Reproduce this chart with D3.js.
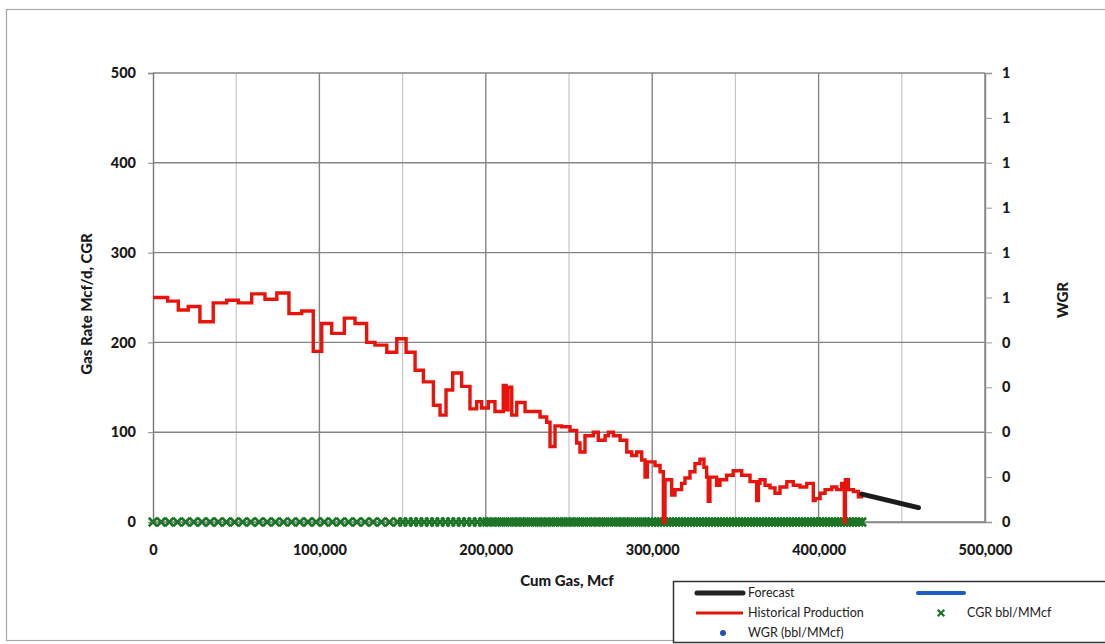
<!DOCTYPE html>
<html><head><meta charset="utf-8">
<script src="https://cdn.jsdelivr.net/npm/d3@7"></script>
<style>
html,body{margin:0;padding:0;background:#fff;}
svg{display:block;font-family:Lato,"Open Sans",sans-serif;}
</style></head>
<body>
<svg id="chart" width="1105" height="644"></svg>
<script>
// ---------------- DATA ----------------
const xTickValues = [0, 100000, 200000, 300000, 400000, 500000];
const yTickValues = [0, 100, 200, 300, 400, 500];
const wgrTickValues = [0, 0.1, 0.2, 0.3, 0.4, 0.5, 0.6, 0.7, 0.8, 0.9, 1.0];
const wgrTickLabels = ["0", "0", "0", "0", "0", "1", "1", "1", "1", "1", "1"];

// Historical production (step starts): cumulative gas (Mcf) and gas rate (Mcf/d)
const histCum = [0, 8800, 15200, 21200, 28200, 36200, 44300, 51300, 59300, 67300, 74400, 81700, 89400, 96300,
  101400, 107400, 115000, 121400, 128400, 133400, 140500, 146500, 152100, 157500, 162500, 168500, 172500,
  176100, 180100, 185500, 190500, 194500, 197500, 201500, 205500, 210500, 212200, 213400, 215600, 218600,
  223600, 232600, 236600, 238600, 241600, 245600, 250600, 254600, 256600, 259600, 264600, 267600, 271700,
  273700, 276700, 280700, 284700, 287700, 290700, 293700, 295700, 297100, 301700, 304700, 306700, 307700,
  311700, 313700, 317700, 319700, 322700, 325700, 328700, 331100, 332700, 333700, 334700, 338700, 340700,
  344700, 348700, 353800, 358800, 362800, 363800, 364800, 367800, 370800, 373800, 376800, 380900, 384800,
  388800, 392900, 396800, 397900, 400900, 403900, 407900, 410900, 413900, 415500, 416100, 417900, 420900,
  423900, 426900];
const histRate = [250, 246, 236, 240, 223, 244, 247, 244, 254, 248, 255, 232, 235, 190,
  221, 210, 227, 221, 200, 197, 189, 204, 189, 169, 156, 130, 119,
  147, 166, 151, 126, 134, 127, 134, 123, 152, 125, 150, 119, 133,
  123, 117, 111, 84, 107, 106, 102, 88, 78, 96, 100, 91, 96,
  100, 96, 91, 78, 74, 78, 69, 50, 67, 63, 56, 0, 47,
  30, 36, 43, 49, 56, 65, 70, 61, 50, 23, 50, 41, 47,
  52, 57, 52, 45, 24, 43, 47, 41, 38, 32, 39, 45, 41,
  39, 43, 24, 26, 32, 36, 39, 36, 43, 0, 47, 36, 34,
  28, 28];

// Forecast
const forecastCum = [426000, 460000];
const forecastRate = [31, 16];

// CGR (bbl/MMcf) points, all plotted at 0
const cgrCum = [0, 4900, 9800, 14700, 19600, 24500, 29400, 34300, 39200, 44100, 49000, 53900, 58800, 63700,
  68600, 73500, 78400, 83300, 88200, 93100, 98000, 102900, 107800, 112700, 117600, 122500, 127400, 132300,
  137200, 142100, 147000,
  150100, 153300, 156500, 159700, 162900, 166100, 169300, 172500, 175700, 178900, 182100, 185300, 188500,
  191700, 194900, 198100,
  200600, 203100, 205600, 208100, 210600, 213100, 215600, 218100, 220600, 223100, 225600, 228100, 230600,
  233100, 235600, 238100, 240600, 243100, 245600, 248100, 250600, 253100, 255600, 258100, 260600, 263100,
  265600, 268100, 270600, 273100, 275600, 278100, 280600, 283100, 285600, 288100, 290600, 293100, 295600, 298100,
  300000, 301800, 303600, 305400, 307200, 309000, 310800, 312600, 314400, 316200, 318000, 319800, 321600,
  323400, 325200, 327000, 328800, 330600, 332400, 334200, 336000, 337800, 339600, 341400, 343200, 345000,
  346800, 348600, 350400, 352200, 354000, 355800, 357600, 359400, 361200, 363000, 364800, 366600, 368400,
  370200, 372000, 373800, 375600, 377400, 379200, 381000, 382800, 384600, 386400, 388200, 390000, 391800,
  393600, 395400, 397200, 399000, 400800, 402600, 404400, 406200, 408000, 409800, 411600, 413400, 415200,
  417000, 418800, 420600, 422400, 424200, 426000];
const cgrValue = cgrCum.map(() => 0);

// WGR (bbl/MMcf): no visible points
const wgrCum = [];
const wgrValue = [];

const legendLabels = ["Forecast", "Historical Production", "WGR (bbl/MMcf)", "CGR bbl/MMcf"];

// ---------------- CHART ----------------
const svg = d3.select("#chart");
const plot = {left: 153, right: 985, top: 73, bottom: 522};

const x = d3.scaleLinear().domain([0, 500000]).range([plot.left, plot.right]);
const y = d3.scaleLinear().domain([0, 500]).range([plot.bottom, plot.top]);
const yR = d3.scaleLinear().domain([0, 1]).range([plot.bottom, plot.top]);

// outer chart border
svg.append("rect").attr("x", 6.5).attr("y", 9.5).attr("width", 1110).attr("height", 631)
  .attr("fill", "none").attr("stroke", "#a8a8a8").attr("stroke-width", 1.2);

// vertical gridlines
const vGrid = d3.range(50000, 500001, 50000);
svg.append("g").selectAll("line").data(vGrid).join("line")
  .attr("x1", d => x(d)).attr("x2", d => x(d))
  .attr("y1", plot.top).attr("y2", plot.bottom)
  .attr("stroke", d => d % 100000 === 0 ? "#858585" : "#c0c0c0")
  .attr("stroke-width", d => d % 100000 === 0 ? 1.4 : 1.1);

// horizontal gridlines
svg.append("g").selectAll("line").data(yTickValues).join("line")
  .attr("x1", plot.left).attr("x2", plot.right)
  .attr("y1", d => y(d)).attr("y2", d => y(d))
  .attr("stroke", "#858585").attr("stroke-width", 1.4);

const tickStyle = sel => sel.attr("font-family", "Lato").attr("font-weight", "900")
  .attr("font-size", 14.5).attr("fill", "#1a1a1a");

// left axis
const gL = svg.append("g").attr("transform", `translate(${plot.left},0)`)
  .call(d3.axisLeft(y).tickValues(yTickValues).tickFormat(d3.format("d")).tickSize(5).tickPadding(12));
gL.select(".domain").attr("stroke", "#777").attr("stroke-width", 1.4);
gL.selectAll(".tick line").attr("stroke", "#888");
tickStyle(gL.selectAll(".tick text"));

// bottom axis
const gB = svg.append("g").attr("transform", `translate(0,${plot.bottom})`)
  .call(d3.axisBottom(x).tickValues(xTickValues).tickFormat(d3.format(",")).tickSize(0).tickPadding(23));
gB.select(".domain").attr("stroke", "#888").attr("stroke-width", 1.3);
tickStyle(gB.selectAll(".tick text"));

// right axis
const gR = svg.append("g").attr("transform", `translate(${plot.right},0)`)
  .call(d3.axisRight(yR).tickValues(wgrTickValues).tickFormat((d, i) => wgrTickLabels[i]).tickSize(7).tickPadding(10));
gR.select(".domain").attr("stroke", "#858585").attr("stroke-width", 1.4);
gR.selectAll(".tick line").attr("stroke", "#999");
tickStyle(gR.selectAll(".tick text"));

// axis titles
const titleStyle = sel => sel.attr("text-anchor", "middle").attr("font-family", "Lato")
  .attr("font-weight", "900").attr("font-size", 15).attr("fill", "#1a1a1a");
titleStyle(svg.append("text").attr("transform", "translate(92,304) rotate(-90)")).text("Gas Rate Mcf/d, CGR");
titleStyle(svg.append("text").attr("transform", "translate(1068,300) rotate(-90)")).text("WGR");
titleStyle(svg.append("text").attr("x", 567).attr("y", 586)).text("Cum Gas, Mcf");

// CGR markers (x)
const xMark = d3.symbol().type(d3.symbolX).size(48);
svg.append("g").selectAll("path").data(cgrCum.map((c, i) => [c, cgrValue[i]])).join("path")
  .attr("d", xMark)
  .attr("transform", d => `translate(${x(d[0])},${y(d[1])})`)
  .attr("fill", "none").attr("stroke", "#1c7426").attr("stroke-width", 2.6);

// WGR markers
svg.append("g").selectAll("circle").data(wgrCum.map((c, i) => [c, wgrValue[i]])).join("circle")
  .attr("cx", d => x(d[0])).attr("cy", d => yR(d[1])).attr("r", 3).attr("fill", "#1f4fbf");

// historical production step line
const histData = histCum.map((c, i) => [c, histRate[i]]);
svg.append("path").datum(histData)
  .attr("d", d3.line().x(d => x(d[0])).y(d => y(d[1])).curve(d3.curveStepAfter))
  .attr("fill", "none").attr("stroke", "#e8140c").attr("stroke-width", 3.4).attr("stroke-linejoin", "miter");

// forecast
const fcData = forecastCum.map((c, i) => [c, forecastRate[i]]);
svg.append("path").datum(fcData)
  .attr("d", d3.line().x(d => x(d[0])).y(d => y(d[1])))
  .attr("fill", "none").attr("stroke", "#1c1c1c").attr("stroke-width", 5).attr("stroke-linecap", "round");

// legend
const lg = svg.append("g");
lg.append("rect").attr("x", 673.5).attr("y", 581.5).attr("width", 440).attr("height", 61)
  .attr("fill", "#fff").attr("stroke", "#333").attr("stroke-width", 1.5);
lg.append("line").attr("x1", 697).attr("x2", 743).attr("y1", 593).attr("y2", 593)
  .attr("stroke", "#222").attr("stroke-width", 5).attr("stroke-linecap", "round");
lg.append("line").attr("x1", 918).attr("x2", 964).attr("y1", 593).attr("y2", 593)
  .attr("stroke", "#1f5bc4").attr("stroke-width", 4).attr("stroke-linecap", "round");
lg.append("line").attr("x1", 696).attr("x2", 743).attr("y1", 613).attr("y2", 613)
  .attr("stroke", "#e8140c").attr("stroke-width", 3);
lg.append("path").attr("d", d3.symbol().type(d3.symbolX).size(30))
  .attr("transform", "translate(941,613)").attr("fill", "none").attr("stroke", "#1c7426").attr("stroke-width", 2.2);
lg.append("circle").attr("cx", 723).attr("cy", 633).attr("r", 3).attr("fill", "#1f4fbf");
const legendPos = [[748, 593], [748, 613], [748, 633], [967, 613]];
lg.selectAll("text").data(legendLabels).join("text")
  .attr("x", (d, i) => legendPos[i][0]).attr("y", (d, i) => legendPos[i][1])
  .attr("dy", "0.35em").attr("font-family", "Lato").attr("font-size", 12.5).attr("fill", "#222")
  .text(d => d);
</script>
</body></html>
